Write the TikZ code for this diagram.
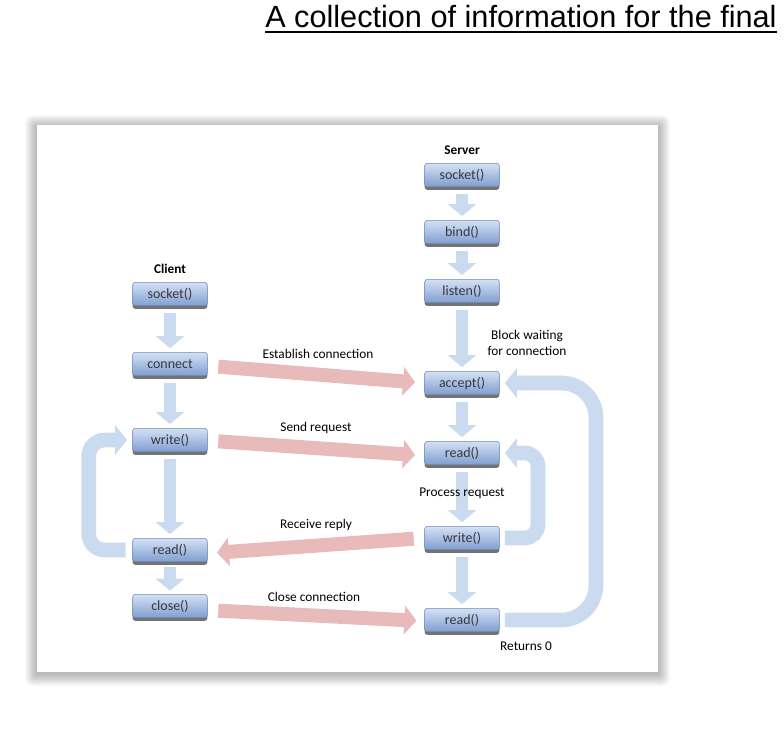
\documentclass[tikz,border=0pt]{standalone}
\usepackage{fontspec}
\usetikzlibrary{arrows.meta,shadows}
\newfontfamily\calfnt{Carlito}
\newfontfamily\arsfnt{Liberation Sans}
\definecolor{boxtop}{RGB}{212,225,244}
\definecolor{boxbot}{RGB}{128,158,208}
\definecolor{boxedge}{RGB}{110,138,186}
\definecolor{boxtxt}{RGB}{55,55,60}
\definecolor{fatblue}{RGB}{202,218,239}
\definecolor{fatpink}{RGB}{232,186,186}
\begin{document}
\begin{tikzpicture}[x=0.75pt,y=-0.75pt,
  sbox/.style={rounded corners=2pt, minimum width=56pt, minimum height=17.5pt, inner sep=0pt,
    top color=boxtop, bottom color=boxbot, draw=boxedge, line width=0.4pt, text=boxtxt,
    font=\calfnt\fontsize{10.5}{12}\selectfont,
    drop shadow={shadow xshift=0pt, shadow yshift=-2.4pt, fill=black!55, opacity=1}},
  lbl/.style={font=\calfnt\fontsize{10}{12}\selectfont, text=black, inner sep=0pt, align=center},
  hdr/.style={font=\calfnt\bfseries\fontsize{10}{12}\selectfont, text=black, inner sep=0pt},
  downar/.style={draw=fatblue, line width=9.5pt, -{Triangle[width=21pt,length=9pt]}, fatblue},
  loopar/.style={draw=fatblue, line width=11pt, -{Triangle[width=22pt,length=9pt]}, fatblue},
  pinkar/.style={draw=fatpink, line width=10.5pt, -{Triangle[width=21pt,length=9pt]}, fatpink}]
\useasboundingbox (0,0) rectangle (784,743);
\fill[white] (0,0) rectangle (784,743);
% title
\node[anchor=base west, font=\arsfnt\fontsize{23}{26}\selectfont, inner sep=0pt] (title) at (265,27) {A collection of information for the final};
\draw[line width=1.5pt] ([yshift=-3.4pt]title.base west) -- ([yshift=-3.4pt]title.base east);
% panel with soft shadow
\foreach \i in {1,...,12} {
  \fill[black, opacity=0.022, rounded corners=\i*0.5pt] (37-\i,125-\i+2) rectangle (658+\i,672+\i+2);
}
\fill[white] (37,125) rectangle (658,672);
% client column
\node[hdr] (client) at (170,269) {Client};
\node[sbox] (csocket) at (170,294) {socket()};
\node[sbox] (cconnect) at (170,364) {connect};
\node[sbox] (cwrite) at (170,440) {write()};
\node[sbox] (cread) at (170,550) {read()};
\node[sbox] (cclose) at (170,606) {close()};
% server column
\node[hdr] (server) at (462,150) {Server};
\node[sbox] (ssocket) at (462,175) {socket()};
\node[sbox] (sbind) at (462,232) {bind()};
\node[sbox] (slisten) at (462,291) {listen()};
\node[sbox] (saccept) at (462,383) {accept()};
\node[sbox] (sread) at (462,453) {read()};
\node[sbox] (swrite) at (462,538) {write()};
\node[sbox] (sread2) at (462,620) {read()};
% vertical arrows
\draw[downar] ([yshift=-5pt]csocket.south) -- ([yshift=3pt]cconnect.north);
\draw[downar] ([yshift=-5pt]cconnect.south) -- ([yshift=3pt]cwrite.north);
\draw[downar] ([yshift=-5pt]cwrite.south) -- ([yshift=3pt]cread.north);
\draw[downar] ([yshift=-4pt]cread.south) -- ([yshift=2.5pt]cclose.north);
\draw[downar] ([yshift=-5pt]ssocket.south) -- ([yshift=3pt]sbind.north);
\draw[downar] ([yshift=-5pt]sbind.south) -- ([yshift=3pt]slisten.north);
\draw[downar] ([yshift=-5pt]slisten.south) -- ([yshift=3pt]saccept.north);
\draw[downar] ([yshift=-5pt]saccept.south) -- ([yshift=3pt]sread.north);
\draw[downar] ([yshift=-5pt]sread.south) -- ([yshift=3pt]swrite.north);
\draw[downar] ([yshift=-5pt]swrite.south) -- ([yshift=3pt]sread2.north);
% loops
\draw[loopar, rounded corners=12pt] ([xshift=-5pt]cread.west) -- ++(-37,0) |- ([xshift=-4pt]cwrite.west);
\draw[loopar, rounded corners=10pt] ([xshift=4pt]swrite.east) -- ++(33,0) |- ([xshift=4pt]sread.east);
\draw[loopar, rounded corners=26pt] ([xshift=4pt]sread2.east) -- ++(91,0) |- ([xshift=4pt]saccept.east);
% pink arrows
\draw[pinkar] ([xshift=8pt,yshift=-2pt]cconnect.east) -- ([xshift=-7pt,yshift=0.5pt]saccept.west);
\draw[pinkar] ([xshift=8pt,yshift=-1pt]cwrite.east) -- ([xshift=-7pt,yshift=-1.5pt]sread.west);
\draw[pinkar] ([xshift=-8pt,yshift=-0.5pt]swrite.west) -- ([xshift=7pt,yshift=-2pt]cread.east);
\draw[pinkar] ([xshift=8pt,yshift=-3.5pt]cclose.east) -- ([xshift=-6pt,yshift=-0.5pt]sread2.west);
% labels
\node[lbl] (l1) at (318,354) {Establish connection};
\node[lbl] (l2) at (316,428) {Send request};
\node[lbl] (l3) at (316,525) {Receive reply};
\node[lbl] (l4) at (314,597) {Close connection};
\node[lbl] (l5) at (527,343) {Block waiting\\for connection};
\node[lbl] (l6) at (462,493) {Process request};
\node[lbl] (l7) at (526,646) {Returns 0};
\end{tikzpicture}
\end{document}
